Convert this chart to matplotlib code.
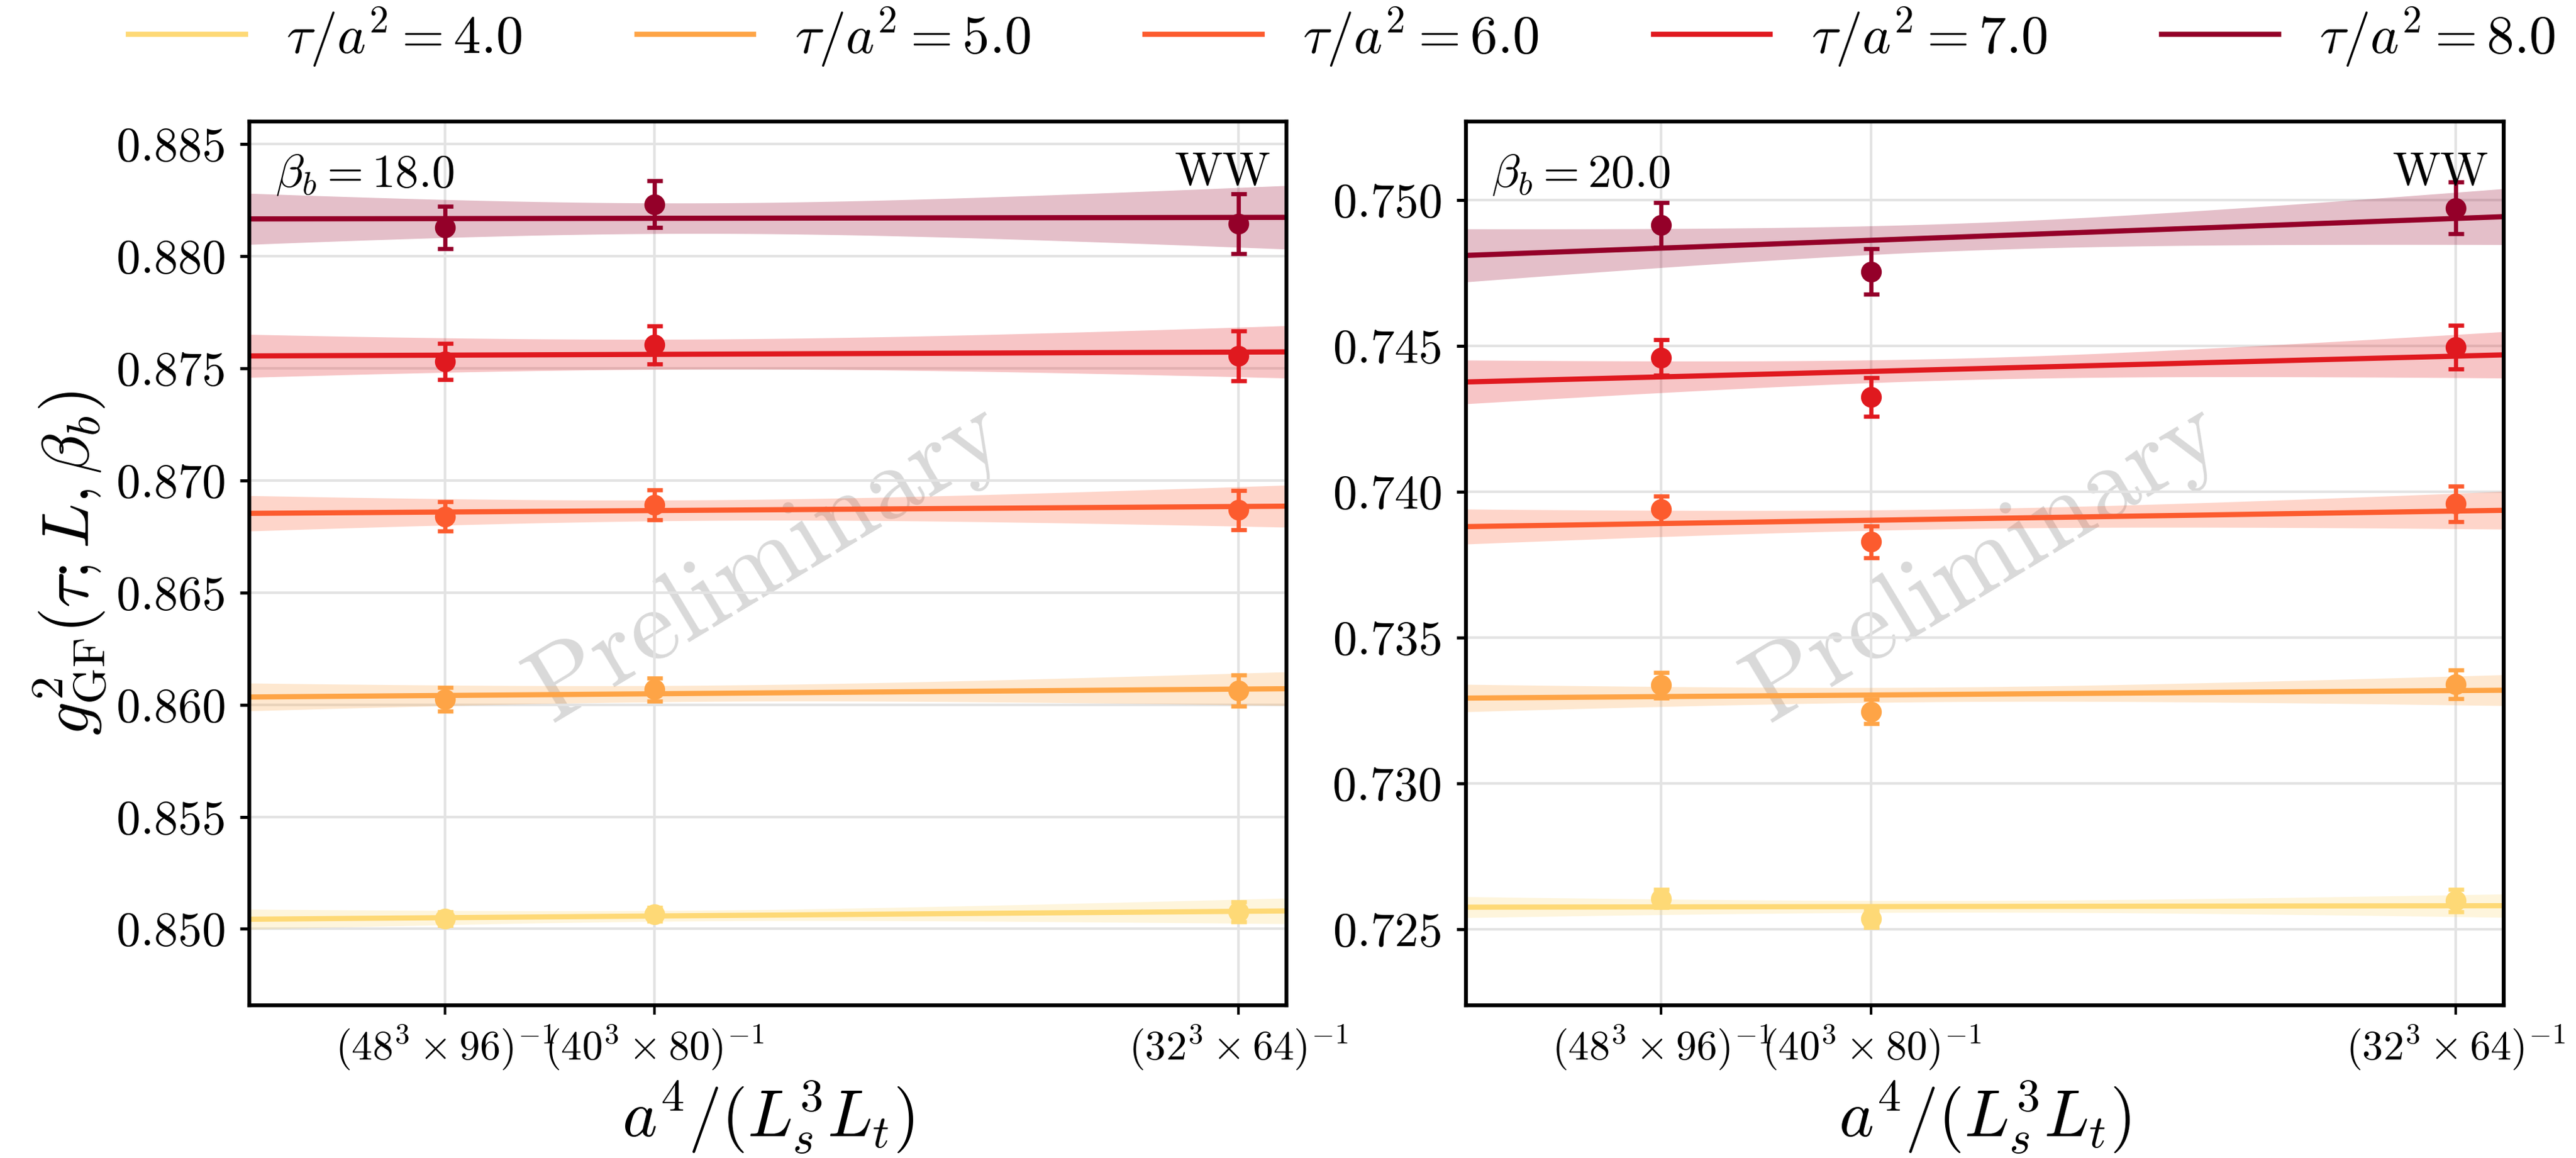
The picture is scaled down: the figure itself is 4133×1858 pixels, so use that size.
import numpy as np
import matplotlib
matplotlib.use("Agg")
import matplotlib.pyplot as plt
from matplotlib.ticker import FormatStrFormatter

plt.rcParams['font.family'] = 'serif'
plt.rcParams['font.serif'] = ['cmr10', 'DejaVu Serif']
plt.rcParams['mathtext.fontset'] = 'cm'
plt.rcParams['axes.formatter.use_mathtext'] = True

# lattice volumes (spatial / temporal extent)
L_s = np.array([48, 40, 32])
L_t = np.array([96, 80, 64])
x_pts = 1.0 / (L_s.astype(float) ** 3 * L_t)
xtick_labels = [r'$(48^3\times 96)^{-1}$', r'$(40^3\times 80)^{-1}$', r'$(32^3\times 64)^{-1}$']

taus = [4.0, 5.0, 6.0, 7.0, 8.0]
colors = ['#fed976', '#fea446', '#fc5b2e', '#e0191f', '#940029']

# beta_b = 18.0
g18 = [
    [0.85046, 0.85065, 0.85076],
    [0.86025, 0.86067, 0.86062],
    [0.86839, 0.86892, 0.86868],
    [0.87531, 0.87604, 0.87555],
    [0.88127, 0.88232, 0.88145],
]
g18_err = [
    [0.00030, 0.00030, 0.00045],
    [0.00053, 0.00052, 0.00069],
    [0.00065, 0.00067, 0.00087],
    [0.00081, 0.00085, 0.00112],
    [0.00095, 0.00103, 0.00134],
]
# linear fit: intercept, slope, their errors and correlation
fit18_a = [0.85043, 0.86034, 0.86853, 0.87555, 0.88166]
fit18_b = [740, 740, 640, 360, 140]
fit18_sa = [0.00045, 0.00062, 0.00079, 0.00096, 0.00114]
fit18_sb = [1800, 2330, 2920, 3290, 4320]
fit18_rho = [-0.847, -0.814, -0.813, -0.717, -0.803]

# beta_b = 20.0
g20 = [
    [0.72606, 0.72536, 0.72598],
    [0.73337, 0.73247, 0.73340],
    [0.73940, 0.73829, 0.73959],
    [0.74461, 0.74325, 0.74497],
    [0.74916, 0.74756, 0.74974],
]
g20_err = [
    [0.00030, 0.00030, 0.00038],
    [0.00044, 0.00041, 0.00049],
    [0.00046, 0.00055, 0.00061],
    [0.00061, 0.00066, 0.00075],
    [0.00077, 0.00078, 0.00089],
]
fit20_a = [0.72576, 0.73293, 0.73881, 0.74377, 0.74811]
fit20_b = [100, 540, 1120, 1860, 2660]
fit20_sa = [0.00036, 0.00047, 0.00060, 0.00075, 0.00091]
fit20_sb = [1290, 1730, 2090, 2710, 3230]
fit20_rho = [-0.831, -0.847, -0.823, -0.869, -0.856]

panels = [
    dict(beta=18.0, g=g18, err=g18_err, a=fit18_a, b=fit18_b, sa=fit18_sa, sb=fit18_sb,
         rho=fit18_rho, ylim=(0.8466, 0.8860), yticks=np.arange(0.850, 0.8851, 0.005)),
    dict(beta=20.0, g=g20, err=g20_err, a=fit20_a, b=fit20_b, sa=fit20_sa, sb=fit20_sb,
         rho=fit20_rho, ylim=(0.7224, 0.7527), yticks=np.arange(0.725, 0.7501, 0.005)),
]

fig = plt.figure(figsize=(4133 / 300, 1858 / 300), dpi=300)
axes = [fig.add_axes([0.0968, 0.132, 0.4026, 0.763]),
        fig.add_axes([0.569, 0.132, 0.403, 0.763])]

xx = np.linspace(0, 5e-7, 300)
handles = []
for ax, p in zip(axes, panels):
    for i, tau in enumerate(taus):
        c = colors[i]
        line = p['a'][i] + p['b'][i] * xx
        sa, sb, rho = p['sa'][i], p['sb'][i], p['rho'][i]
        band = np.sqrt(sa ** 2 + 2 * rho * sa * sb * xx + sb ** 2 * xx ** 2)
        ax.fill_between(xx, line - band, line + band, color=c, alpha=0.25, lw=0, zorder=1)
        h, = ax.plot(xx, line, color=c, lw=2, zorder=2, label=rf'$\tau/a^2 = {tau:.1f}$')
        ax.errorbar(x_pts, p['g'][i], yerr=p['err'][i], fmt='o', color=c, ms=7,
                    capsize=3, elinewidth=1.6, capthick=1.6, zorder=3)
        if ax is axes[0]:
            handles.append(h)

    ax.set_xlim(0, 5e-7)
    ax.set_ylim(*p['ylim'])
    ax.set_xticks(x_pts)
    ax.set_xticklabels(xtick_labels, fontsize=16)
    ax.set_yticks(p['yticks'])
    ax.yaxis.set_major_formatter(FormatStrFormatter('%.3f'))
    ax.tick_params(axis='y', labelsize=18.5, length=3.5, width=1.2, pad=5.5)
    ax.tick_params(axis='x', length=3.5, width=1.0, pad=3.5)
    ax.grid(True, color='#e3e3e3', lw=1.0, zorder=0)
    ax.set_axisbelow(True)
    for s in ax.spines.values():
        s.set_linewidth(1.5)
    ax.set_xlabel(r'$a^4/(L_s^3L_t)$', fontsize=25.5)
    ax.xaxis.set_label_coords(0.5, -0.083)
    ax.text(0.025, 0.965, rf'$\beta_b = {p["beta"]:.1f}$', transform=ax.transAxes,
            fontsize=18, ha='left', va='top')
    ax.text(0.985, 0.965, 'WW', transform=ax.transAxes, fontsize=18, ha='right', va='top')
    ax.text(0.5, 0.5, 'Preliminary', transform=ax.transAxes, fontsize=40, color='gray',
            alpha=0.3, rotation=31, ha='center', va='center', zorder=0)

axes[0].set_ylabel(r'$g^2_{\mathrm{GF}}(\tau;L,\beta_b)$', fontsize=25.5)
axes[0].yaxis.set_label_coords(-0.135, 0.5)

fig.legend(handles=handles, loc='center', bbox_to_anchor=(0.521, 0.968), ncol=5,
           frameon=False, fontsize=21, handlelength=2.14, handletextpad=0.75,
           columnspacing=2.1)

fig.savefig('out.png', dpi=300)
